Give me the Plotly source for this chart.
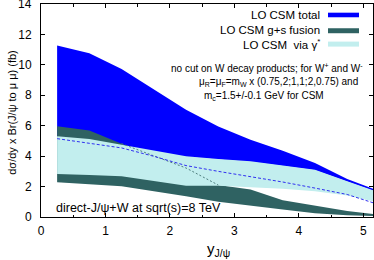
import plotly.graph_objects as go

# rapidity bin centres
y_rap = [0.25, 0.75, 1.25, 1.75, 2.25, 2.75, 3.25, 3.75, 4.25, 4.75, 5.25]

# LO CSM total band
total_up = [11.27, 10.77, 9.72, 8.36, 7.05, 5.95, 5.08, 4.36, 3.55, 2.50, 1.70]
total_lo = [5.25, 5.08, 4.70, 4.30, 3.95, 3.78, 3.62, 3.35, 3.08, 2.32, 1.58]

# LO CSM g+s fusion band
gs_up = [5.96, 5.69, 4.82, 4.03, 3.22, 2.10, 1.80, 1.10, 0.75, 0.40, 0.15]
gs_lo = [2.28, 2.15, 2.02, 1.70, 1.37, 1.00, 0.75, 0.50, 0.25, 0.12, 0.05]

# LO CSM via gamma* band
gam_up = [5.30, 5.13, 4.75, 4.35, 3.99, 3.81, 3.66, 3.38, 3.11, 2.35, 1.62]
gam_lo = [2.83, 2.76, 2.68, 2.38, 2.05, 2.05, 1.95, 1.85, 1.69, 1.41, 0.95]

# central dashed curve
central = [5.15, 4.86, 4.54, 3.99, 3.38, 3.00, 2.65, 2.30, 1.90, 1.48, 0.80]

x_ticks = [0, 1, 2, 3, 4, 5]
y_ticks = [0, 2, 4, 6, 8, 10, 12, 14]

C_TOT = "#0000FF"
C_GS = "#2F6262"
C_GAM = "#C2EEEE"
FONT = "Liberation Sans, Arial, sans-serif"

def band(up, lo, color, name):
    return go.Scatter(x=y_rap + y_rap[::-1], y=up + lo[::-1], fill="toself",
                      fillcolor=color, line=dict(width=0), mode="lines",
                      name=name, hoverinfo="skip", showlegend=False)

fig = go.Figure()
fig.add_trace(band(total_up, total_lo, C_TOT, "LO CSM total"))
fig.add_trace(band(gs_up, gs_lo, C_GS, "LO CSM g+s fusion"))
fig.add_trace(band(gam_up, gam_lo, C_GAM, "LO CSM via gamma*"))
fig.add_trace(go.Scatter(x=y_rap[2:6], y=gs_up[2:6], mode="lines",
                         line=dict(color="#4F7F7F", width=1, dash="2px,2px"),
                         showlegend=False, hoverinfo="skip"))
fig.add_trace(go.Scatter(x=y_rap, y=central, mode="lines",
                         line=dict(color="#3030F0", width=1, dash="3px,2px"),
                         showlegend=False, hoverinfo="skip"))

axis_common = dict(showline=True, linecolor="black", linewidth=1, mirror="allticks",
                   ticks="inside", ticklen=4, tickcolor="black", showgrid=False,
                   zeroline=False, tickfont=dict(family=FONT, size=12, color="black"))

fig.update_xaxes(range=[0, 5.15], tickvals=x_ticks, ticklabelstandoff=3,
                 minor=dict(dtick=0.5, ticks="inside", ticklen=2.5, tickcolor="black"),
                 **axis_common)
fig.update_yaxes(range=[0, 14], tickvals=y_ticks, ticklabelstandoff=6,
                 **axis_common)

W, H = 374, 260
L, R, T, B = 41, 1, 4, 42.5
PW, PH = W - L - R, H - T - B

def px(x):
    return (x - L) / PW

def py(y):
    return (H - B - y) / PH

ann = []
# top tick label (partly clipped at the page edge, as in the original)
ann.append(dict(text=str(y_ticks[-1]), x=px(34), y=y_ticks[-1], xref="paper", yref="y",
                xanchor="right", yanchor="middle", showarrow=False,
                font=dict(family=FONT, size=12, color="black")))

legend_items = [("LO CSM total", C_TOT, 15.0, 12.7, 17.3),
                ("LO CSM g+s fusion", C_GS, 30.5, 28.3, 33.3),
                ("LO CSM  via γ<sup>*</sup>", C_GAM, 44.0, 41.7, 46.7)]
shapes = []
for txt, col, yc, y0, y1 in legend_items:
    ann.append(dict(text=txt, x=px(322), y=py(yc), xref="paper", yref="paper",
                    xanchor="right", yanchor="middle", showarrow=False,
                    font=dict(family=FONT, size=11.5, color="black")))
    shapes.append(dict(type="rect", xref="paper", yref="paper",
                       x0=px(328), x1=px(359), y0=py(y1), y1=py(y0),
                       fillcolor=col, line=dict(width=0)))

notes = [("no cut on W decay products; for W<sup>+</sup> and W<sup>-</sup>", 169, 68),
         ("μ<sub>R</sub>=μ<sub>F</sub>=m<sub>W</sub> x (0.75,2;1,1;2,0.75) and", 197, 82),
         ("m<sub>c</sub>=1.5+/-0.1 GeV for CSM", 202, 96)]
for txt, x, y in notes:
    ann.append(dict(text=txt, x=px(x), y=py(y), xref="paper", yref="paper",
                    xanchor="left", yanchor="middle", showarrow=False,
                    font=dict(family=FONT, size=10, color="black")))

ann.append(dict(text="direct-J/ψ+W at sqrt(s)=8 TeV", x=px(54), y=py(208),
                xref="paper", yref="paper", xanchor="left", yanchor="middle",
                showarrow=False, font=dict(family=FONT, size=12.5, color="black")))
ann.append(dict(text="y<sub>J/ψ</sub>", x=px(218), y=py(250), xref="paper", yref="paper",
                xanchor="center", yanchor="middle", showarrow=False,
                font=dict(family=FONT, size=15, color="black")))
ann.append(dict(text="dσ/dy x Br(J/ψ to μ μ) (fb)", x=px(12), y=py(113),
                xref="paper", yref="paper", xanchor="center", yanchor="middle",
                textangle=-90, showarrow=False,
                font=dict(family=FONT, size=11, color="black")))

fig.update_layout(width=W, height=H, margin=dict(l=L, r=R, t=T, b=B),
                  paper_bgcolor="white", plot_bgcolor="white",
                  showlegend=False, annotations=ann, shapes=shapes)

fig.write_html("out.html", config={"displayModeBar": False},
               post_script="document.body.style.margin='0';document.body.style.padding='0';")
